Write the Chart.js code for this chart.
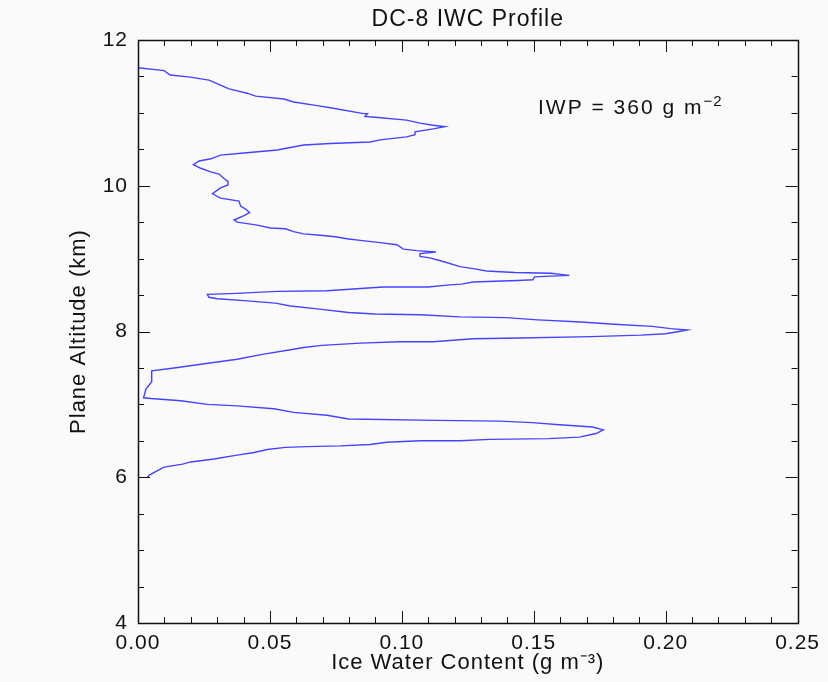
<!DOCTYPE html>
<html>
<head>
<meta charset="utf-8">
<script src="https://cdn.jsdelivr.net/npm/chart.js@4/dist/chart.umd.min.js"></script>
<style>
  html, body { margin: 0; padding: 0; background: #fafafa; }
  #wrap { width: 828px; height: 682px; }
</style>
</head>
<body>
<div id="wrap"><canvas id="c" width="828" height="682"></canvas></div>
<script>
// ---- data (path of the profile, top to bottom) ----
const iwc = [
  0.000, 0.0099, 0.0122, 0.0198, 0.0269, 0.0313, 0.0345, 0.0414, 0.0446, 0.0553,
  0.0590, 0.0679, 0.0729, 0.0855, 0.0870, 0.0860, 0.0899, 0.1018, 0.1069, 0.1119,
  0.1163, 0.1119, 0.1050, 0.1050, 0.1018, 0.0918, 0.0880, 0.0729, 0.0628, 0.0528,
  0.0402, 0.0313, 0.0276, 0.0232, 0.0210, 0.0238, 0.0276, 0.0307, 0.0326, 0.0341,
  0.0341, 0.0313, 0.0282, 0.0313, 0.0383, 0.0389, 0.0408, 0.0423, 0.0402, 0.0364,
  0.0376, 0.0452, 0.0502, 0.0559, 0.0590, 0.0628, 0.0691, 0.0748, 0.0798, 0.0842,
  0.0918, 0.0981, 0.1006, 0.1056, 0.1129, 0.1069, 0.1069, 0.1106, 0.1157, 0.1220,
  0.1276, 0.1321, 0.1428, 0.1566, 0.1610, 0.1635, 0.1566, 0.1503, 0.1497, 0.1440,
  0.1352, 0.1270, 0.1226, 0.1182, 0.1100, 0.0930, 0.0716, 0.0528, 0.0351, 0.0263,
  0.0269, 0.0301, 0.0414, 0.0521, 0.0578, 0.0679, 0.0798, 0.0899, 0.1069, 0.1220,
  0.1396, 0.1515, 0.1679, 0.1805, 0.1950, 0.2019, 0.2082, 0.2051, 0.2000, 0.1906,
  0.1717, 0.1446, 0.1270, 0.1119, 0.0993, 0.0842, 0.0697, 0.0628, 0.0578, 0.0477,
  0.0376, 0.0238, 0.0137, 0.0052, 0.0052, 0.0030, 0.0021, 0.0049, 0.0162, 0.0263,
  0.0376, 0.0515, 0.0590, 0.0716, 0.0798, 0.1132, 0.1370, 0.1494, 0.1597, 0.1723,
  0.1764, 0.1736, 0.1673, 0.1557, 0.1333, 0.1220, 0.1069, 0.0943, 0.0880, 0.0767,
  0.0641, 0.0559, 0.0490, 0.0440, 0.0370, 0.0288, 0.0200, 0.0169, 0.0099, 0.0074,
  0.0043, 0.0036
];
const altitude = [
  11.62, 11.58, 11.52, 11.49, 11.45, 11.38, 11.33, 11.27, 11.23, 11.19,
  11.15, 11.10, 11.07, 10.99, 10.99, 10.95, 10.94, 10.90, 10.86, 10.83,
  10.81, 10.78, 10.74, 10.70, 10.67, 10.63, 10.60, 10.58, 10.56, 10.49,
  10.45, 10.42, 10.37, 10.34, 10.29, 10.24, 10.19, 10.16, 10.10, 10.06,
  10.01, 9.97, 9.89, 9.83, 9.79, 9.72, 9.68, 9.63, 9.59, 9.53,
  9.50, 9.46, 9.42, 9.41, 9.37, 9.34, 9.32, 9.30, 9.27, 9.25,
  9.22, 9.19, 9.13, 9.11, 9.09, 9.07, 9.03, 9.01, 8.96, 8.89,
  8.86, 8.83, 8.81, 8.80, 8.78, 8.77, 8.76, 8.75, 8.71, 8.70,
  8.69, 8.68, 8.65, 8.64, 8.61, 8.61, 8.56, 8.55, 8.52, 8.51,
  8.47, 8.45, 8.42, 8.39, 8.35, 8.31, 8.26, 8.24, 8.23, 8.20,
  8.19, 8.16, 8.13, 8.10, 8.07, 8.04, 8.02, 8.00, 7.97, 7.95,
  7.93, 7.91, 7.90, 7.86, 7.86, 7.84, 7.81, 7.78, 7.75, 7.69,
  7.62, 7.55, 7.50, 7.46, 7.31, 7.21, 7.09, 7.08, 7.05, 7.00,
  6.98, 6.94, 6.89, 6.85, 6.80, 6.78, 6.77, 6.75, 6.72, 6.69,
  6.65, 6.60, 6.55, 6.53, 6.52, 6.50, 6.50, 6.48, 6.45, 6.43,
  6.42, 6.41, 6.38, 6.34, 6.30, 6.25, 6.21, 6.18, 6.14, 6.09,
  6.03, 6.00
];
const xTicks = [0.00, 0.05, 0.10, 0.15, 0.20, 0.25];
const yTicks = [4, 6, 8, 10, 12];
const xMinorStep = 0.01;
const yMinorStep = 0.5;
const chartTitle = 'DC-8 IWC Profile';
const xTitle = 'Ice Water Content (g m\u207B\u00B3)';
const yTitle = 'Plane Altitude (km)';
const noteMain = 'IWP = 360 g m';
const noteSup = '\u22122';

// ---- chart ----
const FONT = "'Liberation Sans', Arial, sans-serif";
const points = iwc.map((v, i) => ({ x: v, y: altitude[i] }));

const spacingPlugin = {
  id: 'spacing',
  beforeUpdate(chart) { chart.ctx.letterSpacing = '1px'; },
  beforeDraw(chart) { chart.ctx.letterSpacing = '1px'; }
};

const framePlugin = {
  id: 'frame',
  afterDraw(chart) {
    const { ctx, chartArea: a, scales } = chart;
    const xs = scales.x, ys = scales.y;
    ctx.save();
    ctx.strokeStyle = '#111';
    ctx.lineWidth = 1;
    const majLen = 12, minLen = 6;
    const near = (v, arr, eps) => arr.some(t => Math.abs(t - v) < eps);
    ctx.beginPath();
    // x ticks (bottom and top, pointing inward)
    for (let v = xs.min; v <= xs.max + 1e-9; v += xMinorStep) {
      const px = Math.round(xs.getPixelForValue(v)) + 0.5;
      const len = near(v, xTicks, 1e-6) ? majLen : minLen;
      ctx.moveTo(px, a.bottom); ctx.lineTo(px, a.bottom - len);
      ctx.moveTo(px, a.top); ctx.lineTo(px, a.top + len);
    }
    // y ticks (left and right, pointing inward)
    for (let v = ys.min; v <= ys.max + 1e-9; v += yMinorStep) {
      const py = Math.round(ys.getPixelForValue(v)) + 0.5;
      const len = near(v, yTicks, 1e-6) ? majLen : minLen;
      ctx.moveTo(a.left, py); ctx.lineTo(a.left + len, py);
      ctx.moveTo(a.right, py); ctx.lineTo(a.right - len, py);
    }
    ctx.stroke();
    ctx.lineWidth = 1.5;
    ctx.strokeRect(Math.round(a.left) + 0.5, Math.round(a.top) + 0.5,
                   Math.round(a.right - a.left), Math.round(a.bottom - a.top));
    // annotation
    ctx.fillStyle = '#111';
    ctx.letterSpacing = '2px';
    ctx.textBaseline = 'alphabetic';
    ctx.textAlign = 'left';
    ctx.font = '21px ' + FONT;
    const nx = a.left + 400, ny = a.top + 74;
    ctx.fillText(noteMain, nx, ny);
    const w = ctx.measureText(noteMain).width;
    ctx.font = '15px ' + FONT;
    ctx.letterSpacing = '1px';
    ctx.fillText(noteSup, nx + w, ny - 8);
    ctx.restore();
  }
};

new Chart(document.getElementById('c'), {
  type: 'scatter',
  data: {
    datasets: [{
      data: points,
      showLine: true,
      borderColor: '#4444ff',
      backgroundColor: '#4444ff',
      borderWidth: 1.4,
      pointRadius: 0,
      tension: 0,
      fill: false
    }]
  },
  options: {
    responsive: false,
    animation: false,
    devicePixelRatio: 1,
    layout: { padding: { left: 0, right: 26, top: 0, bottom: 0 } },
    plugins: {
      legend: { display: false },
      tooltip: { enabled: false },
      title: {
        display: true,
        fullSize: false,
        text: chartTitle,
        color: '#111',
        font: { family: FONT, size: 23, weight: 'normal', lineHeight: 1.2 },
        padding: { top: 6, bottom: 6.4 }
      }
    },
    scales: {
      x: {
        type: 'linear',
        min: 0, max: 0.25,
        afterBuildTicks(s) { s.ticks = xTicks.map(v => ({ value: v })); },
        afterFit(s) { s.height = 59; },
        grid: { display: false, drawTicks: false },
        border: { display: false },
        ticks: {
          color: '#111',
          padding: 8,
          maxRotation: 0,
          autoSkip: false,
          font: { family: FONT, size: 21 },
          callback: v => Number(v).toFixed(2)
        },
        title: {
          display: true,
          text: xTitle,
          color: '#111',
          font: { family: FONT, size: 22, lineHeight: 1.2 },
          padding: { top: 0, bottom: 6 }
        }
      },
      y: {
        type: 'linear',
        min: 4, max: 12,
        afterBuildTicks(s) { s.ticks = yTicks.map(v => ({ value: v })); },
        afterFit(s) { s.width = 138; },
        grid: { display: false, drawTicks: false },
        border: { display: false },
        ticks: {
          color: '#111',
          padding: 10,
          autoSkip: false,
          font: { family: FONT, size: 21 },
          callback: v => String(v)
        },
        title: {
          display: true,
          text: yTitle,
          color: '#111',
          font: { family: FONT, size: 22, lineHeight: 1.2 },
          padding: { top: 66, bottom: 0 }
        }
      }
    }
  },
  plugins: [spacingPlugin, framePlugin]
});
</script>
</body>
</html>
